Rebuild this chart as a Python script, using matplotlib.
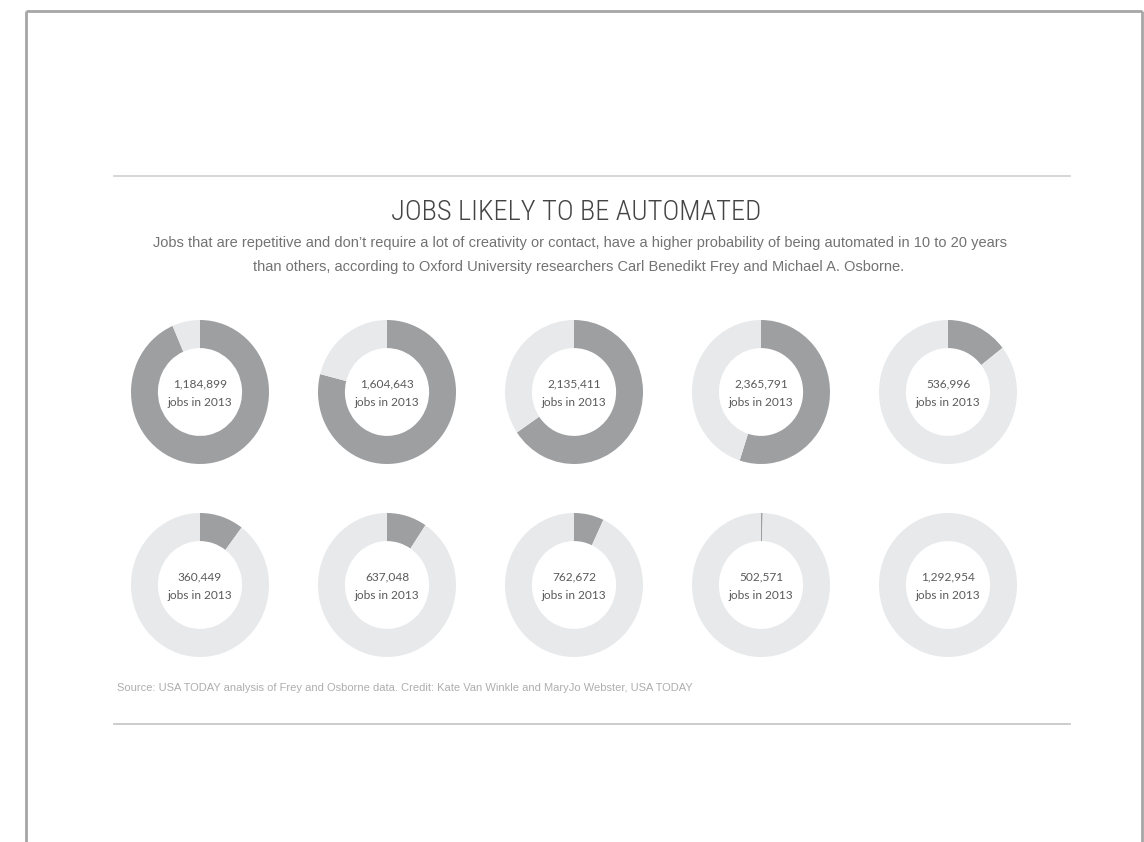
import matplotlib
matplotlib.use("Agg")
import matplotlib.pyplot as plt
from matplotlib import font_manager

# ---- data ----
job_counts = ["1,184,899", "1,604,643", "2,135,411", "2,365,791", "536,996",
              "360,449", "637,048", "762,672", "502,571", "1,292,954"]
automated_share = [93.5, 79.0, 65.5, 55.0, 14.5,
                   10.3, 9.4, 7.0, 0.4, 0.0]
center_suffix = "jobs in 2013"

title = "JOBS LIKELY TO BE AUTOMATED"
subtitle_lines = [
    "Jobs that are repetitive and don\u2019t require a lot of creativity or contact, have a higher probability of being automated in 10 to 20 years",
    "than others, according to Oxford University researchers Carl Benedikt Frey and Michael A. Osborne.",
]
source = "Source: USA TODAY analysis of Frey and Osborne data. Credit: Kate Van Winkle and MaryJo Webster, USA TODAY"

DARK = "#9e9fa1"
LIGHT = "#e8e9ea"

installed = {f.name for f in font_manager.fontManager.ttflist}
title_font, title_size = "Roboto", 17.5
for cand in ["Roboto Condensed", "Liberation Sans Narrow", "Open Sans Condensed"]:
    if cand in installed:
        title_font, title_size = cand, 20.5
        break

W, H = 1144, 842
fig = plt.figure(figsize=(W / 100, H / 100), dpi=100)
fig.patch.set_facecolor("white")

bg = fig.add_axes([0, 0, 1, 1])
bg.set_xlim(0, W)
bg.set_ylim(H, 0)
bg.axis("off")

# frame
bg.plot([26, 1142], [11, 11], color="#a6a6a6", lw=2, solid_capstyle="butt")
bg.plot([26, 26], [11, H], color="#a6a6a6", lw=2, solid_capstyle="butt")
bg.plot([1142, 1142], [11, H], color="#a6a6a6", lw=2, solid_capstyle="butt")

# separators
bg.plot([114, 1070], [176, 176], color="#d4d4d4", lw=1.3)
bg.plot([114, 1070], [724, 724], color="#c8c8c8", lw=1.3)

bg.text(576, 213, title, ha="center", va="center", fontsize=title_size,
        family=title_font, fontweight="light", color="#444444")
bg.text(580, 243, subtitle_lines[0], ha="center", va="center", fontsize=10.5,
        family="Liberation Sans", color="#727272")
bg.text(579, 267, subtitle_lines[1], ha="center", va="center", fontsize=10.5,
        family="Liberation Sans", color="#727272")
bg.text(117, 688, source, ha="left", va="center", fontsize=8.0,
        family="Liberation Sans", color="#aeaeae")

# donuts
col_x = [200, 387, 574, 761, 948]
row_y = [392, 585]
rw, rh = 138, 144
for i, (share, count) in enumerate(zip(automated_share, job_counts)):
    cx = col_x[i % 5]
    cy = row_y[i // 5]
    ax = fig.add_axes([(cx - rw / 2) / W, 1 - (cy + rh / 2) / H, rw / W, rh / H])
    vals = [share, 100 - share]
    ax.pie(vals, colors=[DARK, LIGHT], startangle=90, counterclock=False,
           radius=1.0, wedgeprops=dict(width=0.39, edgecolor="none", linewidth=0))
    ax.set_aspect("auto")
    ax.set_xlim(-1, 1)
    ax.set_ylim(-1, 1)
    ax.axis("off")
    ax.text(0, 0.11, count, ha="center", va="center", fontsize=8.6,
            family="Lato", color="#5a5a5a")
    ax.text(0, -0.15, center_suffix, ha="center", va="center", fontsize=8.6,
            family="Lato", color="#5a5a5a")

fig.savefig("out.png", dpi=100, facecolor="white")
